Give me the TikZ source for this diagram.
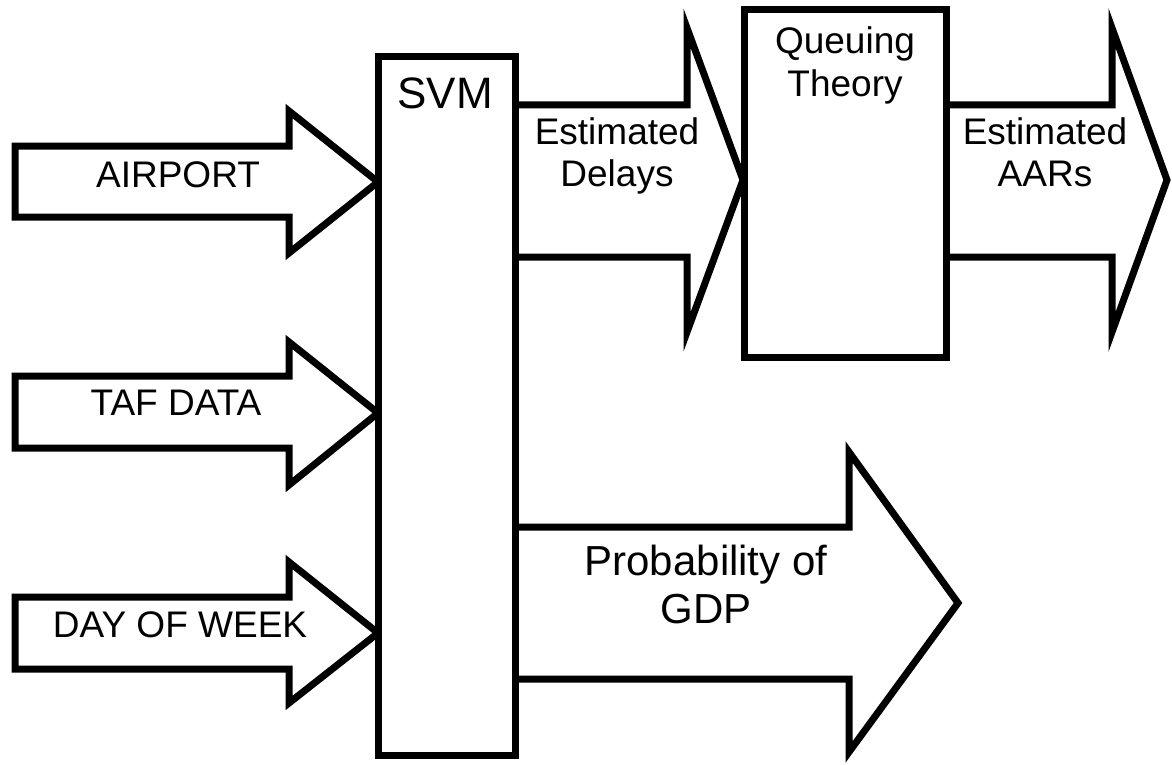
\documentclass[tikz,border=0pt]{standalone}
\usepackage{fontspec}
\setmainfont{Liberation Sans}
\begin{document}
\begin{tikzpicture}[x=1pt,y=-1pt,
  shp/.style={draw=black, line width=7pt, fill=white, line join=miter},
  lbl/.style={inner sep=0pt, anchor=base, font=\fontsize{37}{43}\selectfont},
  big/.style={inner sep=0pt, anchor=base, font=\fontsize{44}{50}\selectfont},
  gdp/.style={inner sep=0pt, anchor=base, font=\fontsize{42}{48}\selectfont}]
\useasboundingbox (0,0) rectangle (1172,765);
% input arrows
\draw[shp] (15,146) -- (289,146) -- (289,111) -- (378,182) -- (289,253) -- (289,217) -- (15,217) -- cycle;
\draw[shp] (15,376) -- (289,376) -- (289,342) -- (378,413) -- (289,485) -- (289,448) -- (15,448) -- cycle;
\draw[shp] (15,597) -- (289,597) -- (289,562) -- (378,633) -- (289,703) -- (289,669) -- (15,669) -- cycle;
% output arrows
\draw[shp] (516,105) -- (687,105) -- (687,28) -- (743,180) -- (687,332) -- (687,257) -- (516,257);
\draw[shp] (946,105) -- (1112,105) -- (1112,28) -- (1167,180) -- (1112,332) -- (1112,257) -- (946,257);
\draw[shp] (516,527) -- (849,527) -- (849,452) -- (958,603) -- (849,752) -- (849,679) -- (516,679);
% boxes
\draw[shp] (378,57) rectangle (515,755);
\draw[shp] (744,10) rectangle (946,357);
% labels
\node[lbl] (airport) at (178,187) {AIRPORT};
\node[lbl] (taf) at (176,415) {TAF DATA};
\node[lbl] (dow) at (180,637) {DAY OF WEEK};
\node[big] (svm) at (445,109) {SVM};
\node[lbl] (est1) at (617,144) {Estimated};
\node[lbl] (est2) at (617,186) {Delays};
\node[lbl] (q1) at (845,54) {Queuing};
\node[lbl] (q2) at (845,97) {Theory};
\node[lbl] (aar1) at (1045,144) {Estimated};
\node[lbl] (aar2) at (1045,186) {AARs};
\node[gdp] (p1) at (706,575) {Probability of};
\node[gdp] (p2) at (706,623) {GDP};
\end{tikzpicture}
\end{document}
